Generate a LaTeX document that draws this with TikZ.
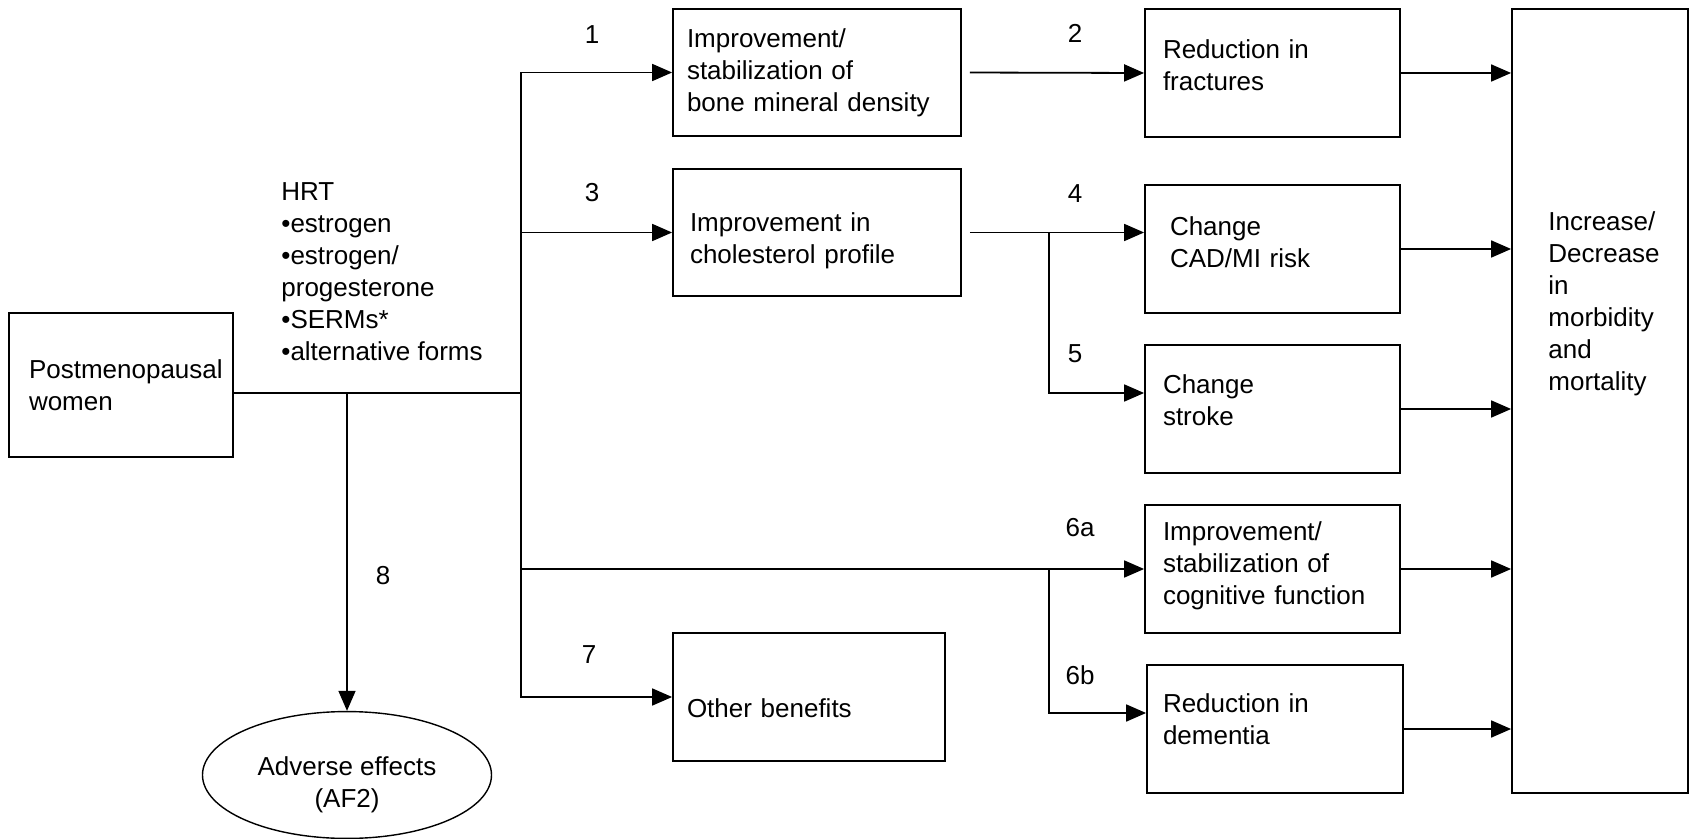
\documentclass[tikz,border=0pt]{standalone}
\usepackage{fontspec}
\setmainfont{Liberation Sans}
\usepackage{tikz}
\usetikzlibrary{calc,arrows.meta,shapes.geometric}
\tikzset{
	box/.style={draw, line width=0.9pt, inner xsep=0pt, inner ysep=0pt, align=left, minimum height=64pt},
	arr/.style={line width=0.9pt, -{Triangle[length=10pt, width=8.5pt]}},
	num/.style={inner sep=0pt}
}
\newcommand{\padtop}[1]{\rule{0pt}{#1}}
\newcommand{\padbot}[1]{\rule[-#1]{0pt}{#1}}

\begin{document}
\begin{tikzpicture}[x=0.5pt, y=-0.5pt, font=\fontsize{13}{16}\selectfont]
		%%%%% START %%%%%
		\useasboundingbox (0, 0) rectangle (1696, 839);
		
		\node[box, minimum width=112pt, minimum height=72pt, text width=92pt] (pm) at (121, 385) {Postmenopausal\\women};
		\node[anchor=west, align=left, inner sep=0pt] (hrt) at (281, 272) {HRT\\\textbullet estrogen\\\textbullet estrogen/\\progesterone\\\textbullet SERMs*\\\textbullet alternative forms};
		
		\node[box, minimum width=144pt, minimum height=63.5pt, text width=130pt] (bmd) at (817, 72.5) {Improvement/\\stabilization of\\bone mineral density};
		\node[box, minimum width=144pt, minimum height=63.5pt, text width=127pt] (chol) at (817, 232.5) {\padtop{17.5pt}Improvement in\\cholesterol profile};
		\node[box, minimum width=136pt, text width=122pt] (other) at (809, 697) {\padtop{20.5pt}Other benefits};
		
		\node[box, minimum width=127.5pt, text width=109.5pt] (frac) at (1272.5, 73) {Reduction in\\fractures\padbot{8pt}};
		\node[box, minimum width=127.5pt, text width=102.5pt] (cad) at (1272.5, 249) {Change\\CAD/MI risk\padbot{7pt}};
		\node[box, minimum width=127.5pt, text width=109.5pt] (stroke) at (1272.5, 409) {Change\\stroke\padbot{8.5pt}};
		\node[box, minimum width=127.5pt, text width=109.5pt] (cogn) at (1272.5, 569) {Improvement/\\stabilization of\\cognitive function\padbot{5.7pt}};
		\node[box, minimum width=128pt, text width=112pt] (dem) at (1275, 729) {Reduction in\\dementia\padbot{10pt}};
		
		\node[box, minimum width=88pt, minimum height=392pt] (out) at (1600, 401) {};
		\node[anchor=west, align=left, inner sep=0pt] (outtxt) at (1548, 304) {Increase/\\Decrease\\in\\morbidity\\and\\mortality};
		
		\node[draw, ellipse, line width=0.7pt, minimum width=144.5pt, minimum height=63pt, align=center] (adv) at (347, 775) {\padtop{19.5pt}Adverse effects\\(AF2)};
		
		\node[num] (n1) at (592, 35) {1};
		\node[num] (n2) at (1075, 33) {2};
		\node[num] (n3) at (592, 193) {3};
		\node[num] (n4) at (1075, 194) {4};
		\node[num] (n5) at (1075, 354) {5};
		\node[num] (n6a) at (1080, 528) {6a};
		\node[num] (n6b) at (1080, 675) {6b};
		\node[num] (n7) at (589, 655) {7};
		\node[num] (n8) at (383, 576) {8};
		
		\coordinate (hub) at (521, 393);
		\coordinate (j8) at (347, 393);
		\coordinate (j45) at (1049, 233);
		\coordinate (j6) at (1049, 569);
		
		\draw[line width=0.9pt] (pm.east |- hub) -- (hub);
		\draw[arr] (hub) |- (bmd.west);
		\draw[arr] (hub) |- (chol.west);
		\draw[arr] (hub) |- (cogn.west);
		\draw[arr] (hub) |- (other.west);
		\draw[arr, line width=0.7pt] (j8) -- (adv.north);
		
		\draw[arr, shorten <=4pt] (bmd.east) -- (frac.west);
		\draw[arr, shorten <=4pt] (chol.east) -- (chol.east -| cad.west);
		\draw[arr] (j45) |- (stroke.west |- hub);
		\draw[arr] (j6) |- ($(dem.west)+(0, -16)$);
		
		\draw[arr] (frac.east) -- (frac.east -| out.west);
		\draw[arr] (cad.east) -- (cad.east -| out.west);
		\draw[arr] (stroke.east) -- (stroke.east -| out.west);
		\draw[arr] (cogn.east) -- (cogn.east -| out.west);
		\draw[arr] (dem.east) -- (dem.east -| out.west);
		
		%%%%% END %%%%%
	\end{tikzpicture}
\end{document}
